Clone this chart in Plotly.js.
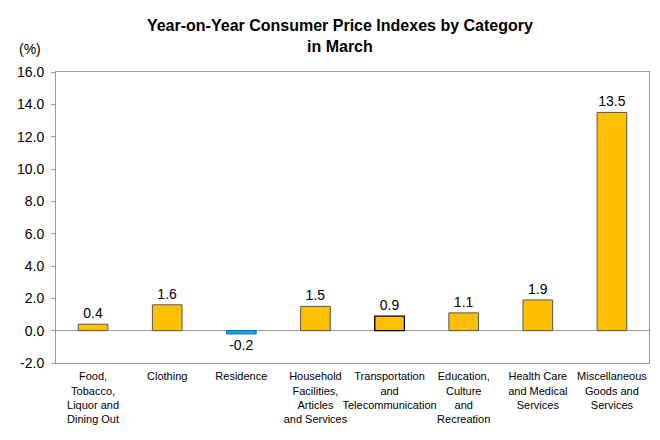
<!DOCTYPE html>
<html>
<head>
<meta charset="utf-8">
<script src="https://cdn.plot.ly/plotly-3.0.1.min.js"></script>
<style>html,body{margin:0;padding:0;background:#fff;}#chart{width:660px;height:440px;}</style>
</head>
<body>
<div id="chart"></div>
<script>
const categories = [
  "Food,<br>Tobacco,<br>Liquor and<br>Dining Out",
  "Clothing",
  "Residence",
  "Household<br>Facilities,<br>Articles<br>and Services",
  "Transportation<br>and<br>Telecommunication",
  "Education,<br>Culture<br>and<br>Recreation",
  "Health Care<br>and Medical<br>Services",
  "Miscellaneous<br>Goods and<br>Services"
];
const values = [0.4, 1.6, -0.2, 1.5, 0.9, 1.1, 1.9, 13.5];
const valueLabels = ["0.4", "1.6", "-0.2", "1.5", "0.9", "1.1", "1.9", "13.5"];
const tickValues = [-2, 0, 2, 4, 6, 8, 10, 12, 14, 16];
const tickLabels = ["-2.0", "0.0", "2.0", "4.0", "6.0", "8.0", "10.0", "12.0", "14.0", "16.0"];

const fillColors = values.map(v => v < 0 ? "#00B0F0" : "#FFC000");
const lineColors = values.map((v, i) => i === 4 ? "#000000" : (v < 0 ? "#1F5F9F" : "#555555"));
const lineWidths = values.map((v, i) => i === 4 ? 1.3 : 1);

const trace = {
  type: "bar",
  x: categories,
  y: values,
  text: valueLabels,
  textposition: "outside",
  cliponaxis: false,
  textfont: {family: "Liberation Sans, Arial, sans-serif", size: 14, color: "#000"},
  marker: {color: fillColors, line: {color: lineColors, width: lineWidths}},
  hoverinfo: "none"
};

const layout = {
  width: 660, height: 440,
  margin: {l: 56, r: 11, t: 72, b: 77},
  paper_bgcolor: "#fff", plot_bgcolor: "#fff",
  bargap: 0.6,
  showlegend: false,
  title: {
    text: "<b>Year-on-Year Consumer Price Indexes by Category<br>in March</b>",
    x: 0.515, xanchor: "center", y: 0.93, yanchor: "top",
    font: {family: "Liberation Sans, Arial, sans-serif", size: 16, color: "#000"}
  },
  xaxis: {
    type: "category",
    showgrid: false, zeroline: false,
    showline: true, linecolor: "#999", linewidth: 1, mirror: true,
    ticks: "", tickangle: 0,
    ticklabelstandoff: 3,
    tickfont: {family: "Liberation Sans, Arial, sans-serif", size: 11, color: "#000"}
  },
  yaxis: {
    range: [-2, 16],
    tickvals: tickValues, ticktext: tickLabels,
    showgrid: false,
    zeroline: true, zerolinecolor: "#999", zerolinewidth: 1,
    showline: true, linecolor: "#999", linewidth: 1, mirror: true,
    ticks: "outside", ticklen: 4, tickcolor: "#999",
    ticklabelstandoff: 4,
    tickfont: {family: "Liberation Sans, Arial, sans-serif", size: 14, color: "#000"}
  },
  annotations: [{
    text: "(%)", xref: "paper", yref: "paper",
    x: -0.066, y: 1.045, xanchor: "left", yanchor: "bottom", showarrow: false,
    font: {family: "Liberation Sans, Arial, sans-serif", size: 14, color: "#000"}
  }]
};

Plotly.newPlot("chart", [trace], layout, {displayModeBar: false, staticPlot: true});
</script>
</body>
</html>
